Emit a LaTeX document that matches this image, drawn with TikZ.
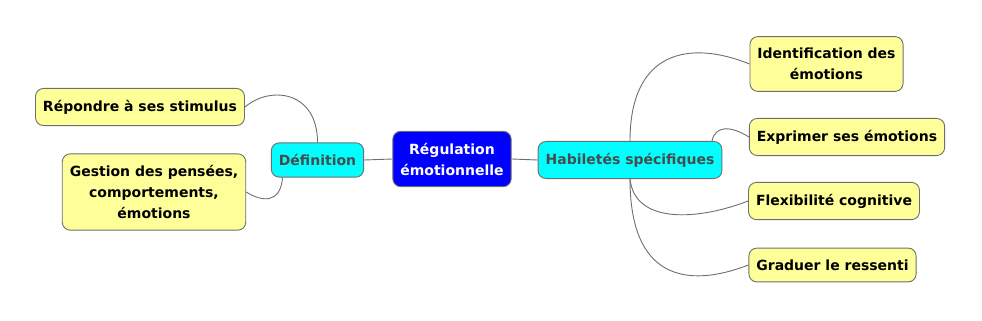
\documentclass[tikz,border=0pt]{standalone}
\usepackage{fontspec}
\setmainfont{DejaVu Sans}
\definecolor{rootblue}{HTML}{0000FF}
\definecolor{branchcyan}{HTML}{00FFFF}
\definecolor{leafyellow}{HTML}{FFFF99}
\definecolor{edgegray}{HTML}{6E6E6E}
\definecolor{labelgray}{HTML}{4A4A4A}
\usetikzlibrary{positioning}
\tikzset{mapnode/.style={draw=edgegray,rounded corners=8pt,align=center,font=\fontsize{14}{21}\selectfont\bfseries,line width=0.9pt,inner xsep=7.5pt,inner ysep=11.5pt},link/.style={draw=edgegray,line width=0.9pt}}
\begin{document}
\begin{tikzpicture}[x=1pt,y=-1pt,root/.style={mapnode,fill=rootblue,text=white},branch/.style={mapnode,fill=branchcyan,text=labelgray},leaf/.style={mapnode,fill=leafyellow,text=black}]
\useasboundingbox (0,0) rectangle (982,321);
\node[root] (reg) at (452,159) {Régulation\\émotionnelle};
\node[branch] (def) at (317.5,160) {Définition};
\node[branch] (hab) at (630,160) {Habiletés spécifiques};
\node[leaf] (rep) at (140,107) {Répondre à ses stimulus};
\node[leaf] (ges) at (154,192) {Gestion des pensées,\\comportements,\\émotions};
\node[leaf] (ide) at (826.5,64) {Identification des\\émotions};
\node[leaf] (exp) at (847,137) {Exprimer ses émotions};
\node[leaf] (fle) at (834,201) {Flexibilité cognitive};
\node[leaf] (gra) at (832.5,265) {Graduer le ressenti};
% liens
\draw[link] (reg.west)--(def.east);
\draw[link] (reg.east)--(hab.west);
\draw[link] (def.north)..controls +(0,-51) and +(26,-22)..(rep.east);
\draw[link] ([xshift=-35pt]def.south)..controls +(-2,26) and +(16,10)..(ges.east);
\draw[link] (hab.north)..controls +(0,-91) and +(-59,-24)..(ide.west);
\draw[link] ([xshift=82pt]hab.north)..controls +(3,-15) and +(-19,-12)..(exp.west);
\draw[link] (hab.south)..controls +(5,46) and +(-49,19)..(fle.west);
\draw[link] (hab.south)..controls +(0,111) and +(-49,19)..(gra.west);
\end{tikzpicture}
\end{document}
